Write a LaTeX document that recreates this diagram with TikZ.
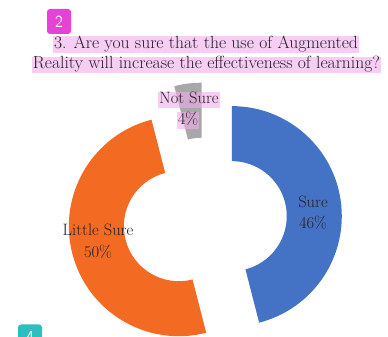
\documentclass[tikz,border=0pt]{standalone}
\usetikzlibrary{positioning}
\definecolor{sureblue}{RGB}{68,114,196}
\definecolor{littleorange}{RGB}{243,107,34}
\definecolor{notgrey}{RGB}{168,168,168}
\definecolor{hlpink}{RGB}{241,172,235}
\definecolor{badgepink}{RGB}{230,66,216}
\definecolor{badgeteal}{RGB}{45,190,190}
\definecolor{inkgrey}{RGB}{40,30,40}
\tikzset{
  lbl/.style={inner sep=0pt, text=inkgrey, font=\fontsize{16.5}{18}\selectfont},
  hl/.style={lbl, fill=hlpink, fill opacity=0.6, text opacity=1, inner xsep=1pt, inner ysep=1pt, text height=11pt, text depth=3.5pt},
  badge/.style={rounded corners=3pt, minimum width=24pt, minimum height=25pt, inner sep=0pt, text=white, font=\sffamily\fontsize{17}{17}\selectfont}
}
\begin{document}
\begin{tikzpicture}[x=1pt, y=1pt]
        \clip (0, 0) rectangle (388, 337);
        \fill[white] (0, 0) rectangle (388, 337);

        \begin{scope}[shift={(205, 117.5)}]
          \fill[sureblue, shift={(7.2:27)}] (90:110) arc[start angle=90, end angle=-75.6, radius=110] -- (-75.6:55) arc[start angle=-75.6, end angle=90, radius=55] -- cycle;
          \fill[littleorange, shift={(194.4:27)}] (-75.6:110) arc[start angle=-75.6, end angle=-255.6, radius=110] -- (-255.6:55) arc[start angle=-255.6, end angle=-75.6, radius=55] -- cycle;
          \fill[notgrey, shift={(97.2:27)}] (104.4:110) arc[start angle=104.4, end angle=90, radius=110] -- (90:55) arc[start angle=90, end angle=104.4, radius=55] -- cycle;
        \end{scope}

        \node[badge, fill=badgepink] (num) at (59, 315.5) {2};
        \node[badge, fill=badgeteal] (next) at (30, 0) {4};

        \node[hl, font=\fontsize{17.6}{19}\selectfont] (title1) at (206, 292.5) {3. Are you sure that the use of Augmented};
        \node[hl, font=\fontsize{17.6}{19}\selectfont] (title2) at (206.5, 272) {Reality will increase the effectiveness of learning?};

        \node[hl] (notsure) at (189, 237) {Not Sure};
        \node[hl] (notpct) at (188, 216.5) {4\%};
        \node[lbl] (sure) at (313, 135) {Sure};
        \node[lbl] (surepct) at (313, 114) {46\%};
        \node[lbl] (little) at (98, 107) {Little Sure};
        \node[lbl] (littlepct) at (98, 85) {50\%};
\end{tikzpicture}
\end{document}
